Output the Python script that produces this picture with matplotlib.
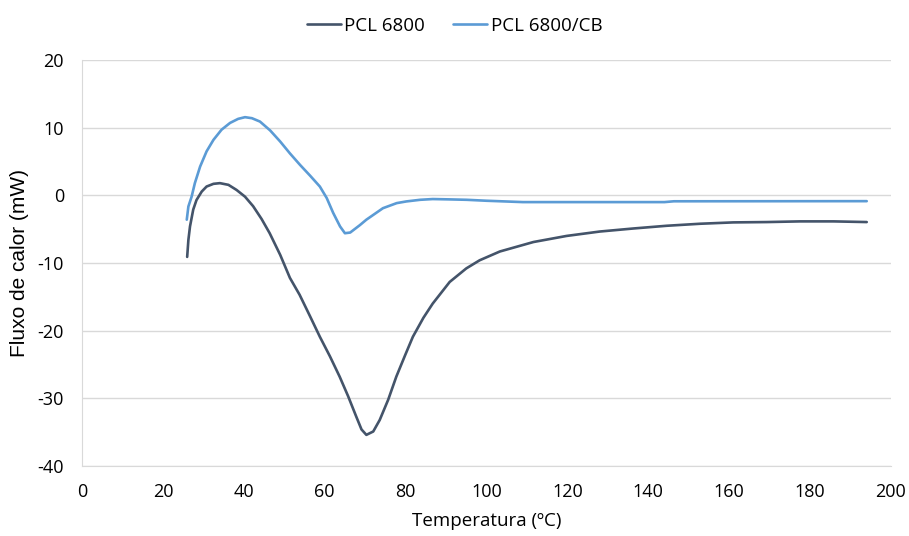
import matplotlib.pyplot as plt

# PCL 6800 (dark curve)
temp_pcl = [26.0, 26.3, 26.7, 27.5, 28.3, 29.6, 30.8, 32.5, 34.1, 36.2, 38.2, 40.3,
            42.3, 44.4, 46.4, 49.0, 51.4, 53.8, 56.4, 58.8, 61.3, 63.7, 65.8, 67.8,
            69.1, 70.3, 72.0, 73.6, 75.7, 77.7, 79.9, 81.8, 84.4, 86.7, 90.9, 95.0,
            98.3, 103.3, 111.6, 119.8, 128.0, 136.3, 144.5, 152.8, 161.0, 169.3, 177.5,
            185.8, 194.0]
flux_pcl = [-9.1, -6.6, -4.6, -2.1, -0.7, 0.56, 1.3, 1.7, 1.8, 1.55, 0.8, -0.2,
            -1.6, -3.5, -5.6, -8.8, -12.2, -14.7, -17.9, -20.9, -23.8, -26.8, -29.7, -32.7,
            -34.6, -35.4, -34.9, -33.2, -30.2, -26.8, -23.6, -20.9, -18.1, -16.0, -12.8, -10.8,
            -9.6, -8.3, -6.9, -6.0, -5.35, -4.9, -4.5, -4.2, -4.0, -3.95, -3.85,
            -3.85, -3.95]

# PCL 6800/CB (light curve)
temp_cb = [25.9, 26.3, 27.1, 27.9, 29.2, 30.8, 32.5, 34.5, 36.6, 38.6, 40.3, 42.0,
           44.0, 46.5, 49.0, 51.4, 53.9, 56.4, 58.8, 60.5, 62.1, 63.8, 65.0, 66.3,
           68.7, 70.3, 74.4, 77.8, 80.2, 83.6, 86.7, 90.9, 95.1, 100.0, 109.0,
           144.0, 146.3, 194.0]
flux_cb = [-3.6, -1.65, -0.2, 1.8, 4.25, 6.5, 8.2, 9.7, 10.7, 11.3, 11.55, 11.4,
           10.9, 9.6, 7.95, 6.2, 4.5, 2.9, 1.3, -0.4, -2.6, -4.6, -5.6, -5.5,
           -4.4, -3.6, -1.9, -1.15, -0.9, -0.66, -0.55, -0.6, -0.66, -0.8, -1.0,
           -1.0, -0.88, -0.86]

plt.rcParams['font.family'] = ['Open Sans', 'DejaVu Sans']
plt.rcParams['axes.unicode_minus'] = False

fig = plt.figure(figsize=(9.09, 5.36), dpi=100)
ax = fig.add_axes([82 / 909, 1 - 466 / 536, (891 - 82) / 909, 406 / 536])

ax.plot(temp_pcl, flux_pcl, color='#44546A', lw=1.9, label='PCL 6800',
        solid_joinstyle='round', solid_capstyle='round')
ax.plot(temp_cb, flux_cb, color='#5B9BD5', lw=1.9, label='PCL 6800/CB',
        solid_joinstyle='round', solid_capstyle='round')

ax.set_xlim(0, 200)
ax.set_ylim(-40, 20)
ax.set_xticks(range(0, 201, 20))
ax.set_yticks(range(-40, 21, 10))
ax.grid(axis='y', color='#D9D9D9', lw=1)
ax.set_axisbelow(True)
for s in ['top', 'right']:
    ax.spines[s].set_visible(False)
for s in ['left', 'bottom']:
    ax.spines[s].set_color('#D9D9D9')
ax.tick_params(length=0, labelsize=13, colors='#000000')
ax.tick_params(axis='x', pad=12)
ax.tick_params(axis='y', pad=13)

ax.set_xlabel('Temperatura (ºC)', fontsize=13.5, labelpad=8)
ax.set_ylabel('Fluxo de calor (mW)', fontsize=15, labelpad=6,
              family=['Liberation Sans', 'DejaVu Sans'])

fig.legend(loc='upper center', bbox_to_anchor=(0.5, 1.0), ncol=2, frameon=False,
           fontsize=13.5, handlelength=1.8, handletextpad=0.2, columnspacing=1.5)

fig.savefig('out.png', dpi=100)
